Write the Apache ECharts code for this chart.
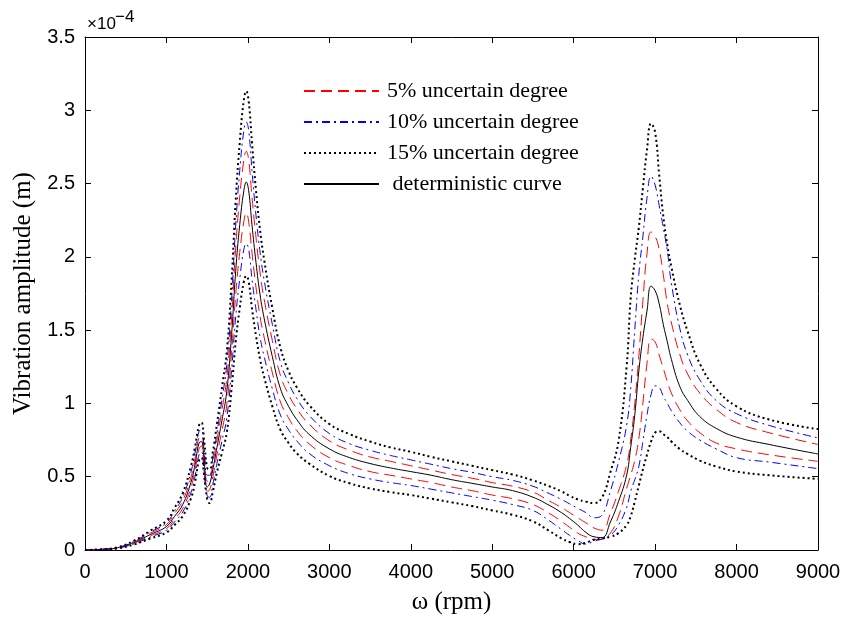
<!DOCTYPE html>
<html><head><meta charset="utf-8">
<script src="https://cdn.jsdelivr.net/npm/echarts@6/dist/echarts.min.js"></script>
<style>html,body{margin:0;padding:0;background:#fff}#c{width:842px;height:617px}</style>
</head><body><div id="c"></div>
<script>
// rotor speed (rpm)
const X = [0,200,400,600,800,1000,1100,1200,1300,1350,1400,1430,1460,1500,1530,1570,1620,1680,1740,1800,1850,1900,1950,1980,2010,2050,2100,2150,2200,2300,2400,
  2500,2600,2750,3000,3250,3500,3750,4000,4250,4500,4750,5000,5250,5500,5700,5850,5950,
  6050,6150,6250,6350,6450,6550,6650,6700,6750,6800,6850,6900,6950,7000,7050,7100,7150,7200,7300,7400,7550,7750,8000,8400,9000];
// amplitudes in units of 1e-4 m
const deterministic = [0,.004,.015,.05,.105,.16,.23,.31,.46,.58,.73,.74,.62,.43,.45,.55,.70,.88,1.08,1.47,1.90,2.22,2.45,2.51,2.45,2.22,1.96,1.74,1.58,1.32,1.10,
  .98,.89,.79,.69,.63,.59,.56,.535,.51,.48,.455,.43,.405,.36,.305,.255,.215,
  .17,.12,.09,.085,.19,.33,.51,.70,.92,1.22,1.45,1.63,1.80,1.77,1.68,1.54,1.42,1.30,1.12,1.02,.91,.83,.77,.72,.655];
const upper5 = [0,.004,.016,.054,.114,.174,.25,.336,.495,.62,.77,.78,.67,.47,.48,.59,.75,.95,1.17,1.59,2.06,2.41,2.66,2.72,2.66,2.41,2.13,1.89,1.71,1.43,1.19,
  1.06,.965,.86,.745,.68,.635,.605,.575,.545,.515,.49,.46,.435,.395,.335,.29,.255,
  .22,.185,.15,.135,.25,.40,.58,.75,1.0,1.32,1.70,2.02,2.17,2.14,2.05,1.88,1.68,1.55,1.34,1.20,1.07,.96,.87,.80,.72];
const lower5 = [0,.004,.014,.046,.096,.146,.21,.284,.425,.54,.69,.71,.58,.40,.41,.50,.65,.81,.99,1.35,1.74,2.03,2.24,2.30,2.24,2.03,1.79,1.59,1.45,1.21,1.01,
  .90,.815,.725,.63,.575,.535,.51,.485,.46,.43,.405,.375,.35,.31,.25,.195,.155,
  .115,.09,.072,.075,.115,.23,.42,.51,.61,.76,1.0,1.27,1.44,1.42,1.33,1.24,1.15,1.07,.96,.88,.80,.73,.69,.65,.605];
const upper10 = [0,.005,.017,.058,.122,.186,.268,.361,.53,.66,.81,.82,.71,.51,.51,.63,.80,1.02,1.26,1.71,2.21,2.59,2.86,2.92,2.86,2.59,2.28,2.03,1.84,1.54,1.28,
  1.14,1.035,.92,.795,.725,.68,.645,.615,.585,.555,.53,.50,.475,.435,.385,.345,.315,
  .285,.255,.22,.24,.40,.60,.85,1.10,1.50,1.88,2.14,2.40,2.55,2.49,2.35,2.20,2.04,1.82,1.52,1.33,1.16,1.02,.93,.85,.765];
const lower10 = [0,.003,.013,.042,.088,.134,.192,.259,.39,.50,.65,.67,.55,.37,.36,.45,.59,.74,.90,1.23,1.59,1.85,2.05,2.09,2.05,1.85,1.64,1.45,1.32,1.10,.92,
  .82,.745,.66,.575,.52,.485,.46,.44,.415,.39,.365,.34,.31,.27,.20,.14,.10,
  .065,.04,.06,.075,.10,.17,.29,.40,.48,.57,.74,.92,1.06,1.12,1.11,1.05,1.00,.95,.87,.81,.75,.69,.63,.60,.555];
const upper15 = [0,.005,.019,.063,.131,.20,.288,.388,.57,.70,.85,.87,.76,.56,.55,.67,.86,1.10,1.35,1.84,2.38,2.78,3.07,3.13,3.06,2.78,2.45,2.18,1.98,1.65,1.38,
  1.22,1.11,.99,.86,.79,.74,.70,.67,.635,.605,.575,.545,.515,.475,.435,.40,.37,
  .345,.33,.32,.36,.53,.74,1.25,1.72,1.98,2.20,2.47,2.73,2.91,2.85,2.56,2.28,2.08,1.93,1.68,1.49,1.27,1.10,.98,.89,.825];
const lower15 = [0,.003,.011,.037,.078,.119,.171,.231,.35,.46,.61,.63,.52,.35,.32,.40,.53,.66,.80,1.10,1.42,1.65,1.83,1.87,1.83,1.65,1.46,1.30,1.18,.98,.82,
  .73,.66,.59,.505,.455,.42,.395,.375,.35,.325,.30,.27,.24,.195,.13,.08,.055,
  .04,.05,.07,.08,.09,.115,.17,.23,.33,.44,.55,.65,.74,.80,.81,.79,.77,.74,.69,.655,.61,.57,.535,.51,.485];
const legendNames = ['5% uncertain degree','10% uncertain degree','15% uncertain degree',' deterministic curve'];

function pts(ys){ return X.map((x,i)=>[x, ys[i]]); }
const chart = echarts.init(document.getElementById('c'), null, {renderer:'canvas'});
const red = {color:'#ff0000', width:1, type:[11,6]};
const blue = {color:'#0000ff', width:1, type:[8,4,2,4]};
const dot = {color:'#000000', width:2, type:[2,3]};
const solid = {color:'#000000', width:1, type:'solid'};
function ser(name, ys, ls){
  return {type:'line', name, data: pts(ys), showSymbol:false, symbol:'none', smooth:0.45,
    lineStyle: ls, itemStyle:{color: ls.color}, emphasis:{disabled:true}, z: 2};
}
const axisCommon = {
  axisLine:{show:true, onZero:false, lineStyle:{color:'#000', width:1}},
  axisTick:{show:true, inside:true, length:6, lineStyle:{color:'#000', width:1}},
  splitLine:{show:false}, minorTick:{show:false}
};
const labelFont = {color:'#000', fontFamily:'Liberation Sans, Arial, sans-serif', fontSize:20};
const serifName = {color:'#000', fontFamily:'Liberation Serif, Times New Roman, serif', fontSize:25};
chart.setOption({
  animation:false,
  backgroundColor:'#fff',
  grid:{left:85, right:24, top:37, bottom:67, containLabel:false, outerBoundsMode:'none'},
  legend:{
    show:true, data: legendNames, orient:'vertical', left:298, top:75, itemWidth:75, itemHeight:14, itemGap:9,
    itemStyle:{opacity:0, color:'rgba(0,0,0,0)', borderWidth:0},
    textStyle:{color:'#000', fontFamily:'Liberation Serif, Times New Roman, serif', fontSize:22, lineHeight:22, padding:[0,0,0,3]},
    selectedMode:false
  },
  xAxis:[
    Object.assign({type:'value', position:'bottom', min:0, max:9000, interval:1000,
      name:'ω (rpm)', nameLocation:'middle', nameGap:40, nameTextStyle:serifName,
      axisLabel:Object.assign({margin:12, formatter:(v)=>String(v)}, labelFont)}, axisCommon),
    Object.assign({type:'value', position:'top', min:0, max:9000, interval:1000, axisLabel:{show:false}}, axisCommon)
  ],
  yAxis:[
    Object.assign({type:'value', position:'left', min:0, max:3.5, interval:0.5,
      name:'Vibration amplitude (m)', nameLocation:'middle', nameGap:44, nameTextStyle:serifName,
      axisLabel:Object.assign({margin:10, formatter:(v)=>String(v)}, labelFont)}, axisCommon),
    Object.assign({type:'value', position:'right', min:0, max:3.5, interval:0.5, axisLabel:{show:false}}, axisCommon)
  ],
  graphic:[
    {type:'text', left:87, top:16, style:{text:'×10', font:'17px "Liberation Sans", Arial, sans-serif', fill:'#000'}},
    {type:'text', left:115, top:9, style:{text:'−4', font:'17px "Liberation Sans", Arial, sans-serif', fill:'#000'}}
  ],
  series:[
    ser(legendNames[0], upper5, red),
    ser(legendNames[1], upper10, blue),
    ser(legendNames[2], upper15, dot),
    ser(legendNames[3], deterministic, solid),
    ser(legendNames[0], lower5, red),
    ser(legendNames[1], lower10, blue),
    ser(legendNames[2], lower15, dot)
  ]
});
</script></body></html>
